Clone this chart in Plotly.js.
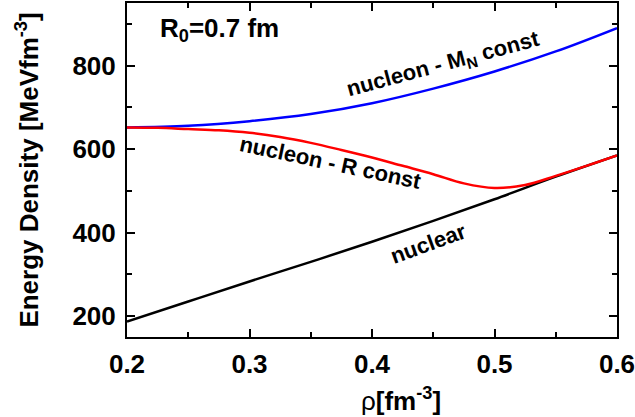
<!DOCTYPE html>
<html>
<head>
<meta charset="utf-8">
<script src="https://cdn.plot.ly/plotly-3.0.1.min.js"></script>
<style>html,body{margin:0;padding:0;background:#fff;}#chart{width:635px;height:417px;}</style>
</head>
<body>
<div id="chart"></div>
<script>
// density rho [fm^-3]
const rhoNuclear = [0.2, 0.25, 0.3, 0.35, 0.4, 0.45, 0.5, 0.55, 0.6];
const eNuclear   = [187, 235, 283, 330, 378, 428, 480, 534, 585];

const rhoMN = [0.2, 0.25, 0.3, 0.35, 0.4, 0.45, 0.5, 0.55, 0.6];
const eMN   = [652, 656, 667, 684, 710, 745, 786, 834, 890];

const rhoR = [0.2, 0.225, 0.25, 0.275, 0.3, 0.325, 0.35, 0.375, 0.4, 0.425, 0.45, 0.475, 0.5, 0.525, 0.55, 0.575, 0.6];
const eR   = [652, 651, 648, 645, 639, 629, 615, 598, 580, 560, 540, 518, 507, 514, 536, 560, 585];

const xTickVals = [0.2, 0.3, 0.4, 0.5, 0.6];
const xTickText = ['0.2', '0.3', '0.4', '0.5', '0.6'];
const yTickVals = [200, 400, 600, 800];
const yTickText = ['200', '400', '600', '800'];

const FONT = 'Arial, "Liberation Sans", sans-serif';

const traces = [
  {x: rhoNuclear, y: eNuclear, mode: 'lines', line: {color: '#000000', width: 2.5, shape: 'spline'}, name: 'nuclear'},
  {x: rhoMN, y: eMN, mode: 'lines', line: {color: '#0000ff', width: 2.5, shape: 'spline'}, name: 'nucleon - MN const'},
  {x: rhoR, y: eR, mode: 'lines', line: {color: '#ff0000', width: 2.5, shape: 'spline'}, name: 'nucleon - R const'}
];

const axisCommon = {
  showline: true, linecolor: '#000', linewidth: 2, mirror: 'allticks',
  ticks: 'inside', ticklen: 8, tickwidth: 2, tickcolor: '#000',
  showgrid: false, zeroline: false,
  ticklabeloverflow: 'allow',
  tickfont: {family: FONT, size: 26, color: '#000', weight: 'bold'}
};

const layout = {
  width: 635, height: 417,
  margin: {l: 127, r: 18, t: 3, b: 80},
  paper_bgcolor: '#fff', plot_bgcolor: '#fff',
  showlegend: false,
  font: {family: FONT, color: '#000'},
  xaxis: Object.assign({}, axisCommon, {
    range: [0.2, 0.6],
    tickvals: xTickVals, ticktext: xTickText,
    minor: {dtick: 0.05, ticks: 'inside', ticklen: 5, tickwidth: 2, tickcolor: '#000', showgrid: false},
    ticklabelstandoff: 3
  }),
  yaxis: Object.assign({}, axisCommon, {
    range: [150, 950],
    tickvals: yTickVals, ticktext: yTickText,
    minor: {dtick: 100, ticks: 'inside', ticklen: 5, tickwidth: 2, tickcolor: '#000', showgrid: false},
    ticklabelstandoff: 4,
    title: {text: '<b>Energy Density [MeVfm<sup>-3</sup>]</b>', font: {family: FONT, size: 26, color: '#000'}, standoff: 26}
  }),
  annotations: [
    {xref: 'paper', yref: 'paper', x: 0.56, y: -0.188, xanchor: 'center', yanchor: 'middle', showarrow: false,
     text: 'ρ<b>[fm<sup>-3</sup>]</b>', font: {family: FONT, size: 26, color: '#000'}},
    {xref: 'paper', yref: 'paper', x: 0.063, y: 0.92, xanchor: 'left', yanchor: 'middle', showarrow: false,
     text: '<b>R<sub>0</sub>=0.7 fm</b>', font: {family: FONT, size: 26, color: '#000'}},
    {xref: 'x', yref: 'y', x: 0.458, y: 802, showarrow: false, textangle: -15,
     text: '<b>nucleon - M<sub>N</sub> const</b>', font: {family: FONT, size: 22, color: '#000'}},
    {xref: 'x', yref: 'y', x: 0.366, y: 568, showarrow: false, textangle: 12,
     text: '<b>nucleon - R const</b>', font: {family: FONT, size: 22, color: '#000'}},
    {xref: 'x', yref: 'y', x: 0.446, y: 374, showarrow: false, textangle: -20,
     text: '<b>nuclear</b>', font: {family: FONT, size: 22, color: '#000'}}
  ]
};

Plotly.newPlot('chart', traces, layout, {staticPlot: true, displayModeBar: false});
</script>
</body>
</html>
